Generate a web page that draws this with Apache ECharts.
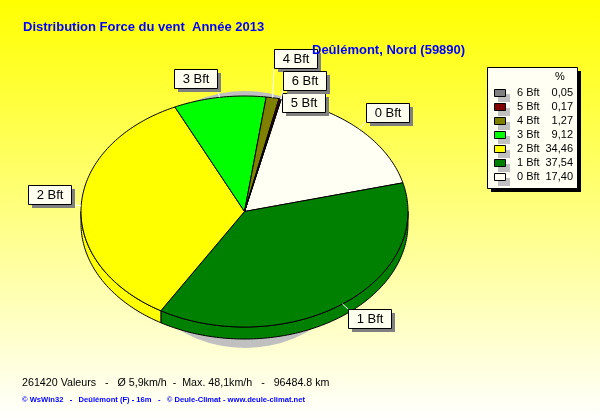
<!DOCTYPE html>
<html>
<head>
<meta charset="utf-8">
<style>html,body{margin:0;padding:0;background:#fff}#c{width:600px;height:420px}</style>
<script src="https://cdn.jsdelivr.net/npm/echarts@6/dist/echarts.min.js"></script>
</head>
<body>
<div id="c"></div>
<script>
const categories = ['0 Bft','1 Bft','2 Bft','3 Bft','4 Bft','5 Bft','6 Bft'];
const percents = [17.40,37.54,34.46,9.12,1.27,0.17,0.05];
const colors = ['#FFFFF4','#008000','#FFFF00','#00FF00','#808000','#800000','#808080'];
const titleText = 'Distribution Force du vent  Année 2013';
const subtitleText = 'Deûlémont, Nord (59890)';
const statsText = '261420 Valeurs   -   Ø 5,9km/h  -  Max. 48,1km/h   -   96484.8 km';
const creditText = '© WsWin32   -   Deûlémont (F) - 16m   -   © Deule-Climat - www.deule-climat.net';

/* layout, separate from the data */
const FONT = '"Liberation Sans", Arial, sans-serif';
const CX = 244.5, CY = 211.5, RX = 163.5, RY = 115.5, DEPTH = 12, START = 13;
const labelBoxes = [[366,103],[348,309],[28,185],[174,69],[274,49],[282,93],[283,71]];
const BOX_W = 43, BOX_H = 19;

const total = percents.reduce((a,b)=>a+b,0);
const starts = [];
percents.reduce((acc,v,i)=>{starts[i]=acc;return acc+v;},0);
const angleOf = p => START + p/total*360;
const pt = (deg,dy=0) => {
  const r = deg*Math.PI/180;
  return [CX+RX*Math.sin(r), CY-RY*Math.cos(r)+dy];
};
function arc(a0,a1,dy){
  const out=[]; const n=Math.max(1,Math.ceil((a1-a0)/1));
  for(let i=0;i<=n;i++) out.push(pt(a0+(a1-a0)*i/n,dy));
  return out;
}
const rows = categories.map((c,i)=>[i,percents[i],starts[i]]);
const lineStyle = {stroke:'#000',lineWidth:1};

function renderWall(params,api){
  const i=api.value(0);
  const a0=Math.max(angleOf(api.value(2)),90), a1=Math.min(angleOf(api.value(2)+api.value(1)),270);
  if(a1<=a0) return {type:'group',children:[]};
  const top=arc(a0,a1,0), bot=arc(a0,a1,DEPTH).reverse();
  return {type:'polygon',shape:{points:top.concat(bot)},style:{fill:colors[i],...lineStyle}};
}
function renderTop(params,api){
  const i=api.value(0);
  const a0=angleOf(api.value(2)), a1=angleOf(api.value(2)+api.value(1));
  return {type:'polygon',shape:{points:[[CX,CY]].concat(arc(a0,a1,0))},style:{fill:colors[i],...lineStyle}};
}
function renderShadow(){
  return {type:'circle',shape:{cx:245,cy:219.5,r:128.5},style:{fill:'#C0C0C0'}};
}
function renderLabel(params,api){
  const i=api.value(0);
  const mid=angleOf(api.value(2)+api.value(1)/2);
  const [x,y]=labelBoxes[i];
  const a=pt(mid);
  const tx=Math.max(x,Math.min(x+BOX_W,a[0])), ty=Math.max(y,Math.min(y+BOX_H,a[1]));
  return {type:'group',children:[
    {type:'line',shape:{x1:a[0],y1:a[1],x2:tx,y2:ty},style:{stroke:'#fff',lineWidth:1}},
    {type:'rect',shape:{x:x+4,y:y+4,width:BOX_W,height:BOX_H},style:{fill:'#808080'}},
    {type:'rect',shape:{x:x+.5,y:y+.5,width:BOX_W,height:BOX_H},style:{fill:'#FFFFF0',...lineStyle}},
    {type:'text',x:x+22,y:y+10,style:{text:categories[i],font:'13px '+FONT,fill:'#000',align:'center',verticalAlign:'middle'}}
  ]};
}
function renderLegend(params,api){
  const i=api.value(0);
  const y=93+14*(categories.length-1-i);
  const kids=[
    {type:'rect',shape:{x:498,y:y+1,width:12,height:8},style:{fill:'#C0C0C0'}},
    {type:'rect',shape:{x:494.5,y:y-3.5,width:11,height:7},style:{fill:colors[i],...lineStyle}},
    {type:'text',x:517,y:y,style:{text:categories[i],font:'11px '+FONT,fill:'#000',align:'left',verticalAlign:'middle'}},
    {type:'text',x:573,y:y,style:{text:api.value(1).toFixed(2).replace('.',','),font:'11px '+FONT,fill:'#000',align:'right',verticalAlign:'middle'}}
  ];
  return {type:'group',children:kids};
}
const chart = echarts.init(document.getElementById('c'),null,{width:600,height:420});
chart.setOption({
  animation:false,
  backgroundColor:{type:'linear',x:0,y:0,x2:0,y2:1,colorStops:[{offset:0,color:'#FFFF00'},{offset:1,color:'#FFFFFF'}]},
  tooltip:{show:false},
  title:[
    {text:titleText,left:23,top:21,padding:0,textStyle:{fontFamily:FONT,fontSize:13,fontWeight:'bold',color:'#0000FF'}},
    {text:subtitleText,left:312,top:44,padding:0,textStyle:{fontFamily:FONT,fontSize:13,fontWeight:'bold',color:'#0000FF'}}
  ],
  graphic:[
    {type:'text',left:22,top:378,style:{text:statsText,font:'10.7px '+FONT,fill:'#000'}},
    {type:'text',left:22,top:396,style:{text:creditText,font:'bold 7.6px '+FONT,fill:'#0000FF'}},
    {type:'rect',z:1,shape:{x:491,y:71,width:90,height:121},style:{fill:'#000'}},
    {type:'rect',z:1,shape:{x:487.5,y:67.5,width:90,height:121},style:{fill:'#FFFFF4',stroke:'#000',lineWidth:1}},
    {type:'text',z:10,x:560,y:77,style:{text:'%',font:'11px '+FONT,fill:'#000',align:'center',verticalAlign:'middle'}}
  ],
  series:[
    {type:'custom',coordinateSystem:'none',silent:true,z:2,data:[[0]],renderItem:renderShadow},
    {type:'custom',coordinateSystem:'none',silent:true,z:3,data:rows,renderItem:renderWall},
    {type:'custom',coordinateSystem:'none',silent:true,z:4,data:rows,renderItem:renderTop},
    {type:'custom',coordinateSystem:'none',silent:true,z:5,data:rows,renderItem:renderLabel},
    {type:'custom',coordinateSystem:'none',silent:true,z:6,data:rows,renderItem:renderLegend}
  ]
});
</script>
</body>
</html>
